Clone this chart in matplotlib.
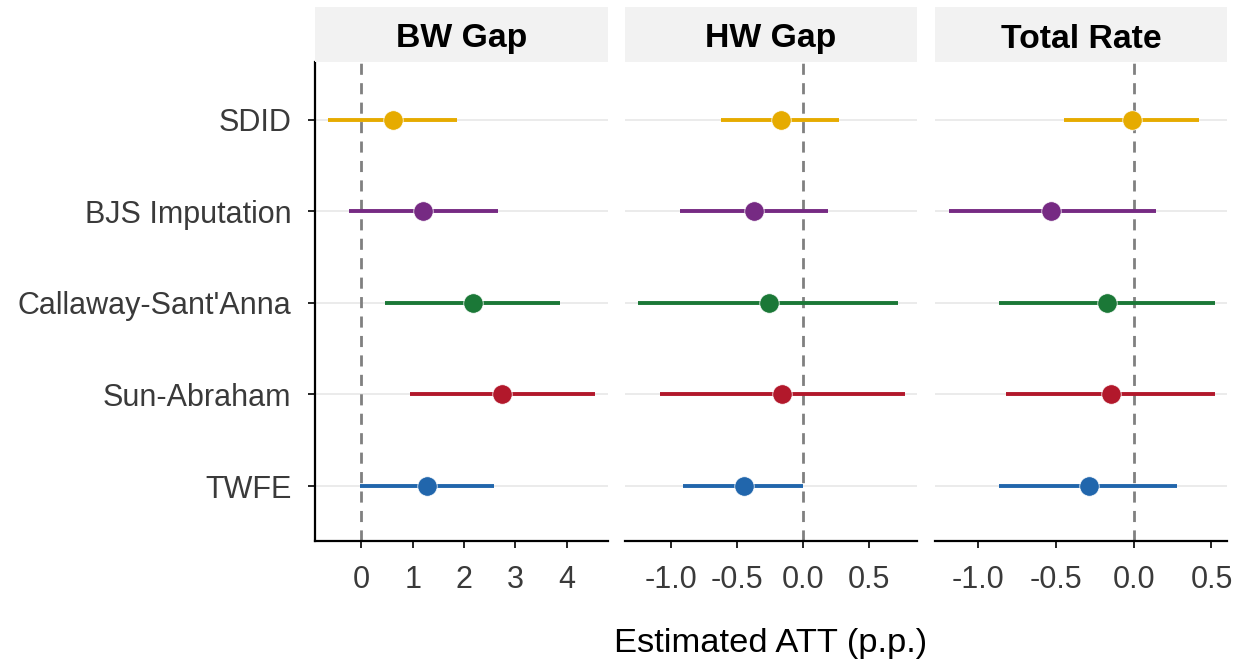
import numpy as np
import matplotlib.pyplot as plt
from matplotlib.patches import Rectangle

plt.rcParams['font.family'] = ['Liberation Sans', 'DejaVu Sans']

methods = ['SDID', 'BJS Imputation', "Callaway-Sant'Anna", 'Sun-Abraham', 'TWFE']
colors = ['#E6AB00', '#762A83', '#1B7837', '#B2182B', '#2166AC']
panels = ['BW Gap', 'HW Gap', 'Total Rate']

# estimates and 95% CI per panel, same order as methods
est = {
    'BW Gap':     [0.61, 1.21, 2.17, 2.74, 1.28],
    'HW Gap':     [-0.17, -0.37, -0.26, -0.16, -0.45],
    'Total Rate': [-0.01, -0.53, -0.17, -0.15, -0.29],
}
lo = {
    'BW Gap':     [-0.64, -0.23, 0.47, 0.94, -0.03],
    'HW Gap':     [-0.62, -0.93, -1.25, -1.08, -0.91],
    'Total Rate': [-0.45, -1.19, -0.87, -0.82, -0.87],
}
hi = {
    'BW Gap':     [1.86, 2.66, 3.87, 4.55, 2.59],
    'HW Gap':     [0.27, 0.19, 0.72, 0.77, 0.0],
    'Total Rate': [0.42, 0.14, 0.52, 0.52, 0.28],
}
xlims = {'BW Gap': (-0.9, 4.8), 'HW Gap': (-1.345, 0.86), 'Total Rate': (-1.28, 0.60)}
xticks = {
    'BW Gap': [0, 1, 2, 3, 4],
    'HW Gap': [-1.0, -0.5, 0.0, 0.5],
    'Total Rate': [-1.0, -0.5, 0.0, 0.5],
}
xticklabels = {
    'BW Gap': ['0', '1', '2', '3', '4'],
    'HW Gap': ['-1.0', '-0.5', '0.0', '0.5'],
    'Total Rate': ['-1.0', '-0.5', '0.0', '0.5'],
}

W, H = 1239, 659
fig = plt.figure(figsize=(W / 100, H / 100), dpi=100)

lefts = [315, 625, 935]
rights = [608, 917, 1227]
top, bottom = 62, 541
strip_top = 7
tick_col = '#3A3A3A'

ypos = np.arange(len(methods))[::-1] + 1  # SDID at top

for i, p in enumerate(panels):
    l, r = lefts[i], rights[i]
    ax = fig.add_axes([l / W, 1 - bottom / H, (r - l) / W, (bottom - top) / H])
    for y in ypos:
        ax.axhline(y, color='#E5E5E5', lw=1.1, zorder=0)
    ax.axvline(0, color='#808080', lw=2, ls=(0, (4, 3)), zorder=1)
    for k in range(len(methods)):
        ax.plot([lo[p][k], hi[p][k]], [ypos[k], ypos[k]], color=colors[k], lw=2.8,
                solid_capstyle='butt', zorder=2)
        ax.plot(est[p][k], ypos[k], 'o', color=colors[k], ms=14, mec='white', mew=0.5, zorder=3)
    ax.set_xlim(*xlims[p])
    ax.set_ylim(0.4, 5.63)
    ax.set_xticks(xticks[p])
    ax.set_xticklabels(xticklabels[p])
    ax.tick_params(axis='x', labelsize=22, labelcolor=tick_col, length=5, width=1.2, pad=12)
    for s in ['top', 'right']:
        ax.spines[s].set_visible(False)
    ax.spines['bottom'].set_linewidth(1.6)
    if i == 0:
        ax.set_yticks(ypos)
        ax.set_yticklabels(methods)
        ax.tick_params(axis='y', labelsize=22, labelcolor=tick_col, length=5, width=1.2, pad=12)
        ax.spines['left'].set_linewidth(1.6)
    else:
        ax.set_yticks([])
        ax.spines['left'].set_visible(False)
    # facet strip
    sax = fig.add_axes([l / W, 1 - top / H, (r - l) / W, (top - strip_top) / H])
    sax.add_patch(Rectangle((0, 0), 1, 1, color='#F2F2F2', transform=sax.transAxes))
    sax.text(0.5, (top - 47.5) / (top - strip_top), p, ha='center', va='baseline',
             fontsize=24.3, fontweight='bold', color='black')
    sax.set_axis_off()

fig.text((lefts[0] + rights[-1]) / 2 / W, 1 - 652 / H, 'Estimated ATT (p.p.)',
         ha='center', va='baseline', fontsize=24.8, color='black')

fig.savefig('out.png', dpi=100)
